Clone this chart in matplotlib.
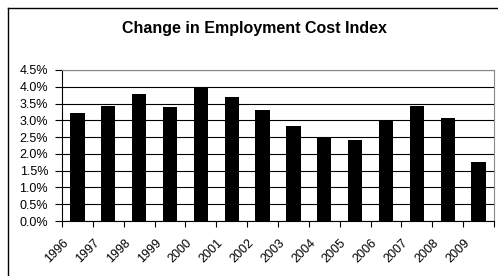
import matplotlib.pyplot as plt
from matplotlib.lines import Line2D
from matplotlib.ticker import FuncFormatter, MultipleLocator
import matplotlib.transforms as mtransforms
import numpy as np

plt.rcParams['font.family'] = ['Liberation Sans', 'DejaVu Sans']

years = ['1996', '1997', '1998', '1999', '2000', '2001', '2002',
         '2003', '2004', '2005', '2006', '2007', '2008', '2009']
eci_change = [3.22, 3.43, 3.79, 3.40, 4.00, 3.70, 3.31,
              2.84, 2.50, 2.42, 2.98, 3.43, 3.08, 1.76]

fig = plt.figure(figsize=(4.98, 2.76), dpi=100)
ax = fig.add_axes([62 / 498, 55 / 276, 432 / 498, 151 / 276])

x = np.arange(len(years))
ax.bar(x, eci_change, width=0.46, color='black', zorder=3)

ax.set_xlim(-0.5, len(years) - 0.5)
ax.set_ylim(0, 4.5)
ax.yaxis.set_major_locator(MultipleLocator(0.5))
ax.yaxis.set_major_formatter(FuncFormatter(lambda v, p: f'{v:.1f}%'))
ax.grid(axis='y', color='black', linewidth=0.8, zorder=0)

# category labels centred, tick marks between categories
ax.set_xticks(x)
ax.set_xticklabels(years, rotation=45, ha='right', va='top',
                   rotation_mode='anchor')
ax.tick_params(axis='x', which='major', length=0, pad=0, labelsize=9)
ax.set_xticks(np.arange(-0.5, len(years)), minor=True)
ax.tick_params(axis='x', which='minor', length=4, direction='out',
               color='black', width=0.8)
ax.tick_params(axis='y', length=5, direction='out', labelsize=9, pad=5)

offset = mtransforms.ScaledTranslation(-15 / 100, -16 / 100, fig.dpi_scale_trans)
for lbl in ax.get_xticklabels():
    lbl.set_transform(lbl.get_transform() + offset)

for side in ['top', 'right']:
    ax.spines[side].set_color('#888888')
    ax.spines[side].set_linewidth(0.8)
for side in ['left', 'bottom']:
    ax.spines[side].set_color('black')
    ax.spines[side].set_linewidth(0.8)

fig.text(254 / 498, 1 - 33.5 / 276, 'Change in Employment Cost Index',
         ha='center', va='baseline', fontsize=11.5, fontweight='bold')

# outer chart frame (only left and top edges visible)
fig.add_artist(Line2D([7.5 / 498, 7.5 / 498], [0, 1 - 7.5 / 276],
                      transform=fig.transFigure, color='black', linewidth=1))
fig.add_artist(Line2D([7.5 / 498, 1], [1 - 7.5 / 276, 1 - 7.5 / 276],
                      transform=fig.transFigure, color='black', linewidth=1))

fig.savefig('out.png', dpi=100)
